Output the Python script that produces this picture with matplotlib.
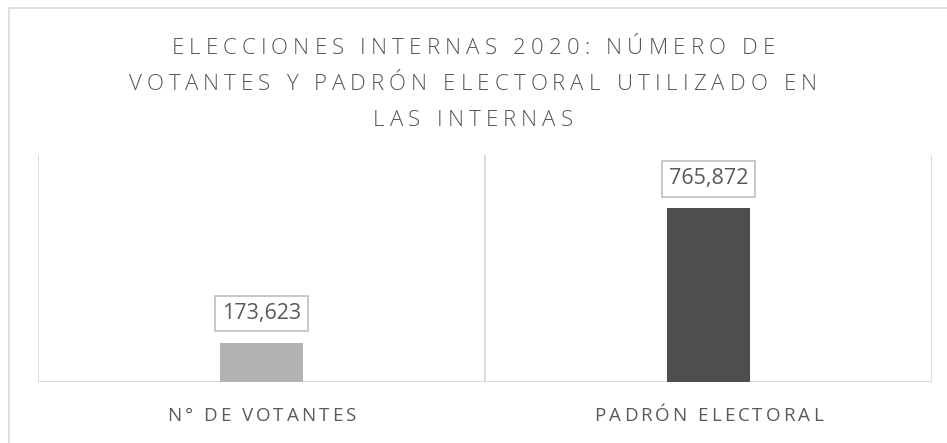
import matplotlib
matplotlib.use('Agg')
import matplotlib.pyplot as plt
from matplotlib.font_manager import FontProperties
from matplotlib.patches import Rectangle

# data
categories = ['N° DE VOTANTES', 'PADRÓN ELECTORAL']
values = [173623, 765872]
bar_colors = ['#b2b2b2', '#4e4e4e']
title_lines = ['ELECCIONES INTERNAS 2020: NÚMERO DE',
               'VOTANTES Y PADRÓN ELECTORAL UTILIZADO EN',
               'LAS INTERNAS']

W, H = 947, 443
text_color = '#595959'
grid_color = '#d9d9d9'

fig = plt.figure(figsize=(W / 100, H / 100), dpi=100)
renderer = fig.canvas.get_renderer()


def spaced_text(x_px, y_px, s, fp, tracking, color):
    """Draw letter-spaced text centred on (x_px, y_px), y measured from the top."""
    def w(t):
        return renderer.get_text_width_height_descent(t, fp, ismath=False)[0]
    bar_w = w('||')
    total = w('|' + s + '|') - bar_w + tracking * (len(s) - 1)
    x0 = x_px - total / 2
    for i, ch in enumerate(s):
        if ch == ' ':
            continue
        xi = x0 + (w('|' + s[:i] + '|') - bar_w) + tracking * i
        fig.text(xi / W, 1 - y_px / H, ch, fontproperties=fp, color=color,
                 ha='left', va='center')


# outer chart border
fig.patches.append(Rectangle((9 / W, -0.1), 1.2, 1 - 8 / H + 0.1, transform=fig.transFigure,
                             facecolor='none', edgecolor=grid_color, lw=1.2, zorder=0))

left, right, top, bottom = 38, 932, 155, 382
ax = fig.add_axes([left / W, 1 - bottom / H, (right - left) / W, (bottom - top) / H])
x = list(range(len(categories)))
bars = ax.bar(x, values, width=0.186, color=bar_colors, zorder=2)
ax.set_xlim(-0.5, len(categories) - 0.5)
ax.set_ylim(0, 1000000)
for s in ax.spines.values():
    s.set_visible(False)
ax.set_xticks([])
ax.set_yticks([])
for b in [-0.5, 0.5, 1.5]:
    ax.axvline(b, color=grid_color, lw=1.3, zorder=1)
ax.axhline(0, color=grid_color, lw=1.3, zorder=1)

label_fp = FontProperties(family='Open Sans', size=15.5)
for xi, v in zip(x, values):
    ax.annotate(f'{v:,}', xy=(xi, v), xytext=(0, 21), textcoords='offset points',
                ha='center', va='center', fontproperties=label_fp, color=text_color,
                bbox=dict(boxstyle='square,pad=0.33', fc='white', ec='#bfbfbf', lw=1.2),
                zorder=3)

title_fp = FontProperties(family='Open Sans', size=16, weight='light')
for i, line in enumerate(title_lines):
    spaced_text(473, 48 + i * 36.5, line, title_fp, 5.2, '#555555')

cat_fp = FontProperties(family='Open Sans', size=13.5)
for xi, c in zip(x, categories):
    xpix = left + (xi + 0.5) / len(categories) * (right - left)
    spaced_text(xpix, 416, c, cat_fp, 3.0, text_color)

fig.savefig('out.png', dpi=100)
